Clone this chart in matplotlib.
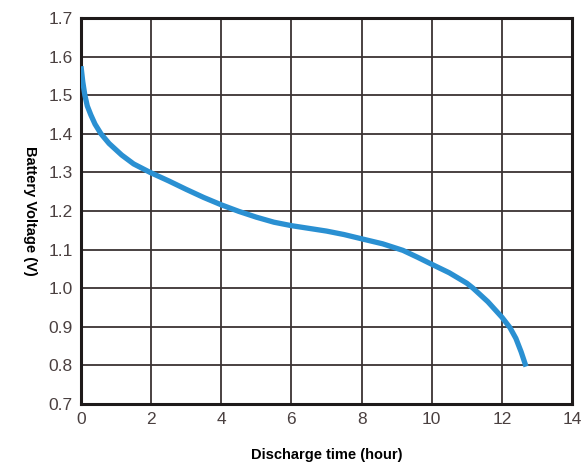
import matplotlib
matplotlib.use("Agg")
import matplotlib.pyplot as plt
from matplotlib import font_manager

hours = [0.0, 0.05, 0.11, 0.18, 0.28, 0.4, 0.57, 0.8, 1.16, 1.5, 1.97, 2.5, 3.0, 3.5, 4.0, 4.5, 5.0, 5.5, 6.0, 6.5, 7.0, 7.5, 8.0, 8.6, 9.18, 9.6, 10.0, 10.5, 11.0, 11.18, 11.6, 12.0, 12.23, 12.4, 12.55, 12.69]
volts = [1.575, 1.535, 1.50, 1.472, 1.449, 1.425, 1.40, 1.375, 1.345, 1.322, 1.30, 1.278, 1.256, 1.235, 1.216, 1.199, 1.184, 1.171, 1.162, 1.155, 1.148, 1.139, 1.128, 1.115, 1.098, 1.080, 1.062, 1.040, 1.013, 1.0, 0.965, 0.925, 0.898, 0.87, 0.835, 0.797]
xticks = [0, 2, 4, 6, 8, 10, 12, 14]
yticks = [0.7, 0.8, 0.9, 1.0, 1.1, 1.2, 1.3, 1.4, 1.5, 1.6, 1.7]

names = {f.name for f in font_manager.fontManager.ttflist}
tickfont = "Liberation Sans Narrow" if "Liberation Sans Narrow" in names else "Liberation Sans"

fig = plt.figure(figsize=(5.83, 4.68), dpi=100)
ax = fig.add_axes([81/583, 1-404/468, (572-81)/583, (404-18)/468])

ax.plot(hours, volts, color="#2a90d2", lw=3.8, solid_capstyle="butt",
        solid_joinstyle="round", zorder=3)

ax.set_xlim(0, 14)
ax.set_ylim(0.7, 1.7)
ax.set_xticks(xticks)
ax.set_yticks(yticks)
ax.set_xticklabels([str(v) for v in xticks])
ax.set_yticklabels([f"{v:.1f}" for v in yticks])
ax.grid(True, color="#3a3333", lw=1.3)
ax.set_axisbelow(True)
for s in ax.spines.values():
    s.set_color("#1e1a1a")
    s.set_linewidth(2.2)
ax.tick_params(length=0, pad=6, labelsize=12.5, colors="#4a4040")
for lab in ax.get_xticklabels() + ax.get_yticklabels():
    lab.set_fontfamily(tickfont)

fig.text(30/583, 1-211/468, "Battery Voltage (V)", rotation=270, ha="center", va="center",
         fontsize=10.5, fontweight="bold", family="Liberation Sans")
fig.text(327/583, 1-455/468, "Discharge time (hour)", ha="center", va="center",
         fontsize=10.5, fontweight="bold", family="Liberation Sans")

fig.savefig("out.png", dpi=100)
